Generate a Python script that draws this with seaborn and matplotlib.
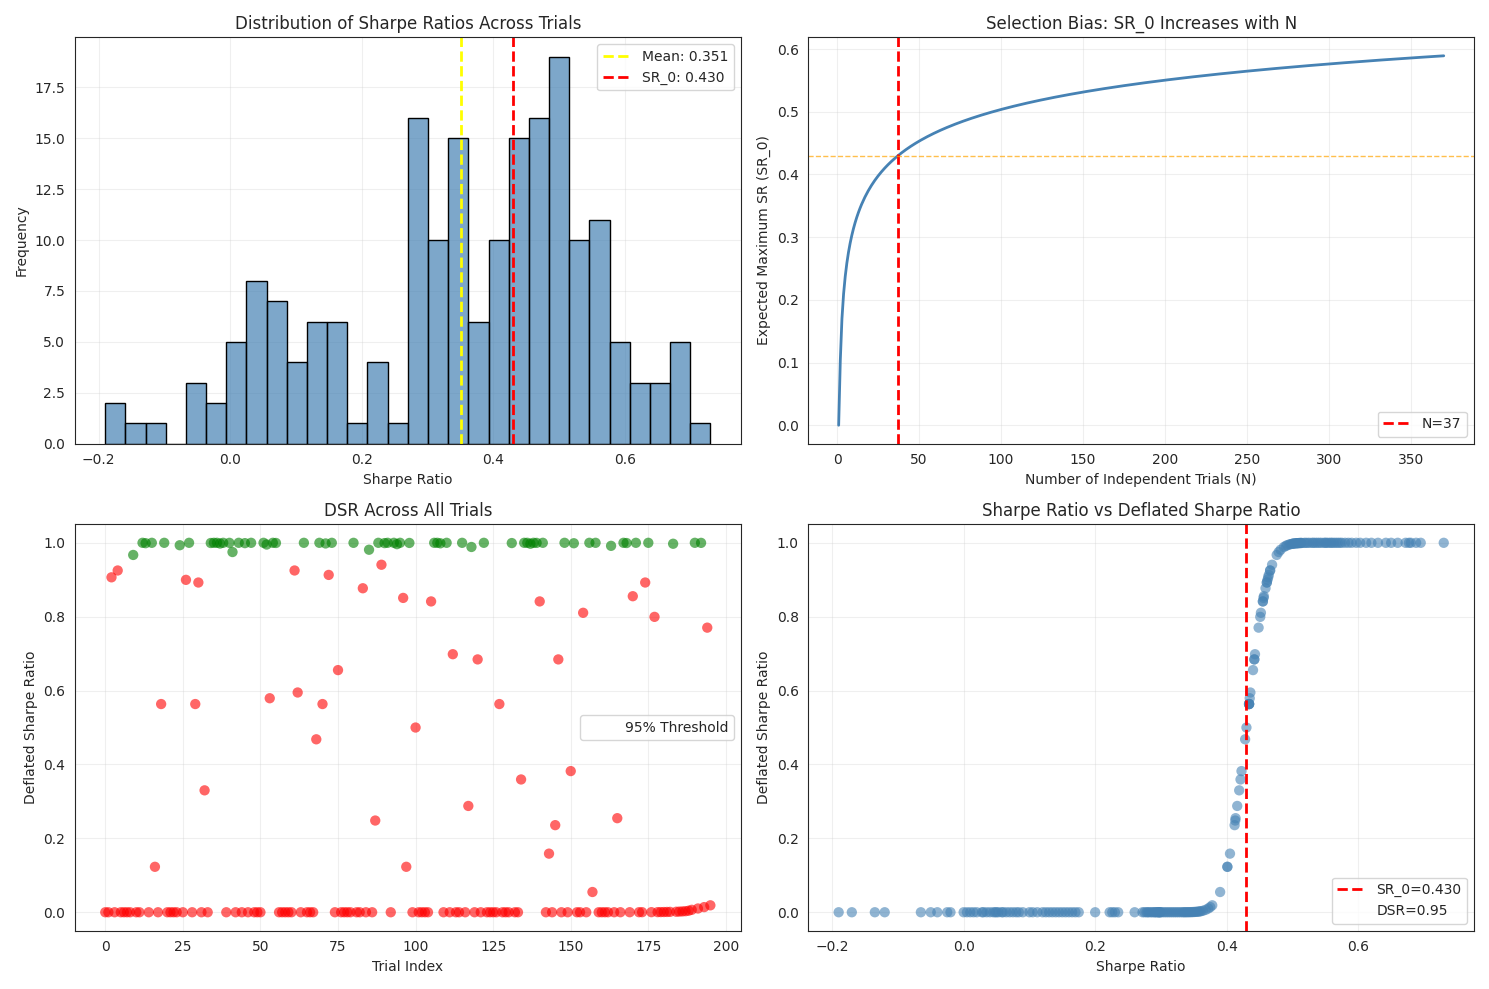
import numpy as np
import pandas as pd
import matplotlib
matplotlib.use("Agg")
import matplotlib.pyplot as plt
import seaborn as sns
from statistics import NormalDist
from matplotlib.lines import Line2D

sns.set_style("white")
plt.rcParams['font.family'] = ['DejaVu Sans']

n_trials = 196
sr0 = 0.430
dsr_scale = 0.025
n_eff = 37
sigma_sr = 0.199

low_sr = [-0.19, -0.17, -0.135, -0.12, -0.065, -0.05, -0.04, -0.025, -0.02,
          0.0, 0.005, 0.01, 0.015, 0.02,
          0.028, 0.03, 0.035, 0.04, 0.045, 0.048, 0.05, 0.053,
          0.058, 0.06, 0.065, 0.07, 0.075, 0.08, 0.084,
          0.09, 0.1, 0.105, 0.112,
          0.12, 0.125, 0.13, 0.135, 0.14, 0.145,
          0.15, 0.155, 0.16, 0.165, 0.17, 0.175,
          0.2, 0.222, 0.226, 0.23, 0.235, 0.26,
          0.272, 0.275, 0.278, 0.28, 0.282, 0.285, 0.287, 0.29, 0.291, 0.293,
          0.295, 0.296, 0.297, 0.298, 0.299, 0.3,
          0.303, 0.306, 0.309, 0.312, 0.315, 0.318, 0.321, 0.324, 0.327, 0.33,
          0.333, 0.335, 0.337, 0.339, 0.341, 0.343, 0.345, 0.347, 0.349, 0.351,
          0.353, 0.355, 0.357, 0.359, 0.361,
          0.364, 0.368, 0.372, 0.375, 0.378]

high_sr = [0.476, 0.479, 0.482,
           0.487, 0.49, 0.492, 0.495, 0.497, 0.50, 0.50, 0.502, 0.503, 0.505,
           0.506, 0.507, 0.508, 0.509, 0.51, 0.511, 0.512, 0.513, 0.514,
           0.518, 0.52, 0.523, 0.526, 0.53, 0.532, 0.535, 0.538, 0.541, 0.544,
           0.548, 0.55, 0.552, 0.555, 0.558, 0.56, 0.563, 0.566, 0.569, 0.572, 0.575,
           0.58, 0.585, 0.59, 0.597, 0.603, 0.612, 0.62, 0.63, 0.642, 0.65, 0.66,
           0.672, 0.677, 0.68, 0.688, 0.695, 0.73]
high_idx = [9, 12, 13, 15, 19, 24, 27, 34, 35, 36, 37, 38, 40, 41, 43, 45, 47, 51,
            52, 54, 55, 64, 69, 71, 73, 80, 85, 88, 90, 91, 93, 94, 95, 98, 106,
            107, 108, 110, 115, 118, 122, 131, 135, 136, 137, 138, 139, 141, 148,
            151, 156, 158, 163, 167, 168, 171, 175, 183, 190, 192]

mid_idx = [2, 4, 16, 18, 26, 29, 30, 32, 53, 61, 62, 68, 70, 72, 75, 83, 87, 89,
           96, 97, 100, 105, 112, 117, 120, 127, 134, 140, 143, 145, 146, 150,
           154, 157, 165, 170, 174, 177, 194]
mid_sr = [0.463, 0.466, 0.401, 0.434, 0.462, 0.434, 0.461, 0.419, 0.435, 0.466,
          0.436, 0.428, 0.434, 0.464, 0.440, 0.459, 0.413, 0.469, 0.456, 0.401,
          0.430, 0.455, 0.443, 0.416, 0.442, 0.434, 0.421, 0.455, 0.405, 0.412,
          0.442, 0.4225, 0.452, 0.390, 0.4135, 0.4565, 0.461, 0.451, 0.4485]

sr = np.full(n_trials, np.nan)
hi_order = np.array(high_sr)[[(i * 37) % 60 for i in range(60)]]
sr[high_idx] = hi_order
sr[mid_idx] = mid_sr
rest = [i for i in range(n_trials) if np.isnan(sr[i])]
sr[rest] = low_sr
nd = NormalDist()
dsr = np.array([nd.cdf((s - sr0) / dsr_scale) for s in sr])
df = pd.DataFrame({"trial": np.arange(n_trials), "sr": sr, "dsr": dsr})
df["sig"] = np.where(df["dsr"] > 0.95, "g", "r")

gamma = 0.5772156649
n_grid = np.arange(1, 371)
def exp_max(n):
    if n <= 1:
        return 0.0
    return sigma_sr * ((1 - gamma) * nd.inv_cdf(1 - 1 / n) + gamma * nd.inv_cdf(1 - 1 / (n * np.e)))
curve = pd.DataFrame({"N": n_grid, "sr0": [exp_max(n) for n in n_grid]})

fig, axes = plt.subplots(2, 2, figsize=(14.89, 9.89), dpi=100)

ax = axes[0, 0]
sns.histplot(df, x="sr", bins=30, color="steelblue", alpha=0.7, edgecolor="black", ax=ax)
ax.axvline(0.351, color="yellow", ls="--", lw=2, label="Mean: 0.351")
ax.axvline(sr0, color="red", ls="--", lw=2, label=f"SR_0: {sr0:.3f}")
ax.set_title("Distribution of Sharpe Ratios Across Trials")
ax.set_xlabel("Sharpe Ratio"); ax.set_ylabel("Frequency")
ax.legend(); ax.grid(alpha=0.3)

ax = axes[0, 1]
sns.lineplot(curve, x="N", y="sr0", color="steelblue", lw=2, ax=ax)
ax.axvline(n_eff, color="red", ls="--", lw=2, label=f"N={n_eff}")
ax.axhline(sr0, color="orange", ls="--", lw=1, alpha=0.7)
ax.set_title("Selection Bias: SR_0 Increases with N")
ax.set_xlabel("Number of Independent Trials (N)"); ax.set_ylabel("Expected Maximum SR (SR_0)")
ax.legend(loc="lower right"); ax.grid(alpha=0.3)

ax = axes[1, 0]
sns.scatterplot(df, x="trial", y="dsr", hue="sig", palette={"g": "green", "r": "red"},
                alpha=0.6, s=55, edgecolor="none", legend=False, ax=ax)
ax.legend([Line2D([], [], lw=0)], ["95% Threshold"], loc="center right")
ax.set_title("DSR Across All Trials")
ax.set_xlabel("Trial Index"); ax.set_ylabel("Deflated Sharpe Ratio")
ax.grid(alpha=0.3)

ax = axes[1, 1]
sns.scatterplot(df, x="sr", y="dsr", color="steelblue", alpha=0.6, s=55, edgecolor="none", ax=ax)
l1 = ax.axvline(sr0, color="red", ls="--", lw=2)
ax.legend([l1, Line2D([], [], lw=0)], [f"SR_0={sr0:.3f}", "DSR=0.95"], loc="lower right")
ax.set_title("Sharpe Ratio vs Deflated Sharpe Ratio")
ax.set_xlabel("Sharpe Ratio"); ax.set_ylabel("Deflated Sharpe Ratio")
ax.grid(alpha=0.3)

plt.tight_layout()
plt.savefig("out.png", dpi=100)
